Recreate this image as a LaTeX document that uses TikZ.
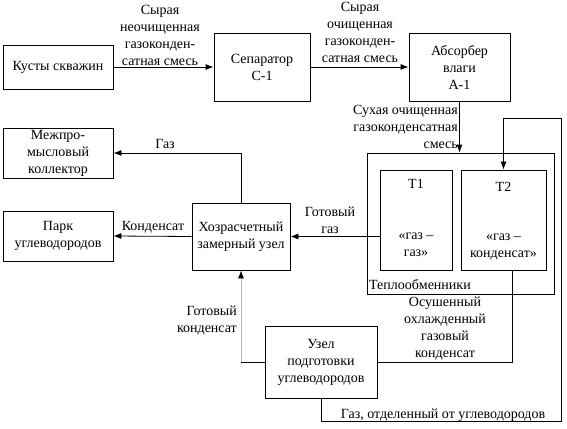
\documentclass[tikz,border=0pt]{standalone}
\usepackage{fontspec}
\setmainfont{Liberation Serif}
\usetikzlibrary{arrows,arrows.meta}

\tikzset{
	box/.style={draw, line width=0.8pt, align=center, inner sep=0pt},
	flow/.style={line width=0.8pt, -{Latex[length=8pt,width=6pt]}},
	pipe/.style={line width=0.8pt},
	note/.style={align=center, inner sep=0pt}
}

\begin{document}
\begin{tikzpicture}[x=1pt, y=-1pt, font=\fontsize{14}{17}\selectfont]
		\useasboundingbox (0,0) rectangle (567,428);
		% units
		\node[box, minimum width=110pt, minimum height=44pt] (wells) at (58,67) {Кусты скважин};
		\node[box, minimum width=96pt, minimum height=68pt] (sep) at (262,67) {Сепаратор\\С-1};
		\node[box, minimum width=101pt, minimum height=68pt] (absorb) at (459.5,67) {Абсорбер\\влаги\\А-1};
		\node[box, minimum width=187pt, minimum height=141pt] (heat) at (460.5,223.5) {};
		\node[box, minimum width=72pt, minimum height=100pt] (t1) at (416,220) {};
		\node[box, minimum width=85pt, minimum height=100pt] (t2) at (503.5,220) {};
		\node[box, minimum width=98pt, minimum height=67pt] (meter) at (241,236.5) {Хозрасчетный\\замерный узел};
		\node[box, minimum width=110pt, minimum height=50pt] (coll) at (58,153) {Межпро-\\мысловый\\коллектор};
		\node[box, minimum width=110pt, minimum height=50pt] (park) at (58,236) {Парк\\углеводородов};
		\node[box, minimum width=112pt, minimum height=72pt] (prep) at (321,362) {Узел\\подготовки\\углеводородов};
		
		% texts inside the exchangers
		\node[note] (t1name) at (416,184) {Т1};
		\node[note] (t1kind) at (416,244.5) {«газ –\\газ»};
		\node[note] (t2name) at (503.5,187) {Т2};
		\node[note] (t2kind) at (503.5,247) {«газ –\\конденсат»};
		\node[note, anchor=west] (heatname) at (369,285) {Теплообменники};
		
		% helper points
		\coordinate (t2out) at (512,270);
		\coordinate (loopBR) at (561,421);
		\coordinate (loopTR) at (561,118);
		
		% streams
		\draw[flow] (wells.east) -- (sep.west);
		\draw[flow] (sep.east) -- (absorb.west);
		\draw[flow] (absorb.south) -- (absorb.south |- heat.north);
		\draw[flow] (meter.east -| t1.west) -- (meter.east);
		\draw[flow] (meter.north) |- (coll.east);
		\draw[flow] (meter.west) -- (park.east);
		\draw[pipe] (prep.west) -- (prep.west -| meter.south);
		\draw[flow, gray!60, -{Latex[length=8pt,width=6pt,black]}] (prep.west -| meter.south) -- (meter.south);
		\draw[pipe] (t2out) |- (prep.east);
		\draw[flow] (prep.south) |- (loopBR) -- (loopTR) -| (t2.north);
		
		% stream labels
		\node[note] (rawmix) at (160,35.5) {Сырая\\неочищенная\\газоконден-\\сатная смесь};
		\node[note] (cleanmix) at (360,32.5) {Сырая\\очищенная\\газоконден-\\сатная смесь};
		\node[note, align=right, anchor=east] (drymix) at (458,127) {Сухая очищенная\\газоконденсатная\\смесь};
		\node[note] (gasout) at (165,144) {Газ};
		\node[note] (condout) at (153,227) {Конденсат};
		\node[note] (readygas) at (330,220) {Готовый\\газ};
		\node[note, align=right, anchor=east] (readycond) at (237,321) {Готовый\\конденсат};
		\node[note] (cooled) at (445,328.5) {Осушенный\\охлажденный\\газовый\\конденсат};
		\node[note] (sepgas) at (443,415) {Газ, отделенный от углеводородов};
\end{tikzpicture}
\end{document}
